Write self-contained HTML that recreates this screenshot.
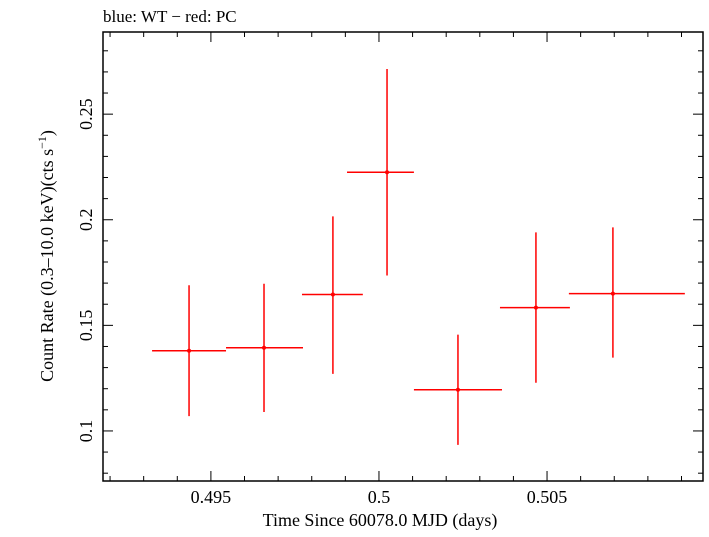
<!DOCTYPE html>
<html><head><meta charset="utf-8"><style>
body{margin:0;background:#fff}
svg text{font-family:"Liberation Serif",serif;fill:#000}
</style></head><body>
<svg width="709" height="532" viewBox="0 0 709 532">
<text x="103" y="22" font-size="17">blue: WT − red: PC</text>
<rect x="103" y="32" width="600" height="449" fill="none" stroke="#000" stroke-width="1.5"/>
<g id="ticks"></g>
<g id="marks"></g>
<text x="380" y="526" font-size="18" text-anchor="middle">Time Since 60078.0 MJD (days)</text>
<text transform="translate(53,256) rotate(-90)" font-size="18" text-anchor="middle">Count Rate (0.3–10.0 keV)(cts s<tspan dy="-7" font-size="12">−1</tspan><tspan dy="7">)</tspan></text>
</svg>
<script>
const times=[0.49435,0.49658,0.49863,0.50024,0.50235,0.50467,0.50696];
const timeErrLo=[0.0011,0.00113,0.00092,0.00119,0.00131,0.00107,0.00131];
const timeErrHi=[0.0011,0.00116,0.00089,0.0008,0.00131,0.00101,0.00214];
const rates=[0.138,0.1394,0.1646,0.2225,0.1195,0.1584,0.165];
const rateErrHi=[0.031,0.0303,0.037,0.0489,0.0261,0.0356,0.0314];
const rateErrLo=[0.031,0.0304,0.0376,0.0489,0.0261,0.0356,0.0303];
const xTicks=[0.495,0.5,0.505];
const xTickLabels=["0.495","0.5","0.505"];
const yTicks=[0.1,0.15,0.2,0.25];
const yTickLabels=["0.1","0.15","0.2","0.25"];
const L=103,R=703,T=32,B=481;
const x0=0.49179,x1=0.50964,y0=0.0763,y1=0.2889;
const X=v=>L+(v-x0)/(x1-x0)*(R-L);
const Y=v=>B-(v-y0)/(y1-y0)*(B-T);
const NS="http://www.w3.org/2000/svg";
function mk(tag,attrs,parent){const e=document.createElementNS(NS,tag);for(const k in attrs)e.setAttribute(k,attrs[k]);parent.appendChild(e);return e;}
const tg=document.getElementById('ticks');
for(let i=0;i<=20;i++){const v=0.492+i*0.001;if(v>x1)break;const px=X(v);const maj=xTicks.some(t=>Math.abs(t-v)<1e-7);const len=maj?10:5;
 let l=mk('line',{x1:px,x2:px,y1:B,y2:B-len,stroke:'#000','stroke-width':1},tg);
 
 
 l=mk('line',{x1:px,x2:px,y1:T,y2:T+len,stroke:'#000','stroke-width':1},tg);
 
 }
for(let i=0;i<=21;i++){const v=0.08+i*0.01;if(v>y1)break;const py=Y(v);const maj=yTicks.some(t=>Math.abs(t-v)<1e-7);const len=maj?10:5;
 let l=mk('line',{x1:L,x2:L+len,y1:py,y2:py,stroke:'#000','stroke-width':1},tg);
 
 
 l=mk('line',{x1:R,x2:R-len,y1:py,y2:py,stroke:'#000','stroke-width':1},tg);
 
 }
xTicks.forEach((v,i)=>{const t=mk('text',{x:X(v),y:503,'font-size':18,'text-anchor':'middle'},tg);t.textContent=xTickLabels[i];
 
 });
yTicks.forEach((v,i)=>{const t=mk('text',{transform:`translate(92,${Y(v)}) rotate(-90)`,'font-size':18,'text-anchor':'middle'},tg);t.textContent=yTickLabels[i];
 
 });
const mg=document.getElementById('marks');
times.forEach((t,i)=>{const g=mk('g',{},mg);
 
 
 mk('line',{x1:X(t-timeErrLo[i]),x2:X(t+timeErrHi[i]),y1:Y(rates[i]),y2:Y(rates[i]),stroke:'#f00','stroke-width':1.5},g);
 mk('line',{x1:X(t),x2:X(t),y1:Y(rates[i]-rateErrLo[i]),y2:Y(rates[i]+rateErrHi[i]),stroke:'#f00','stroke-width':1.5},g);
 mk('circle',{cx:X(t),cy:Y(rates[i]),r:2,fill:'#f00'},g);});
</script>
</body></html>
